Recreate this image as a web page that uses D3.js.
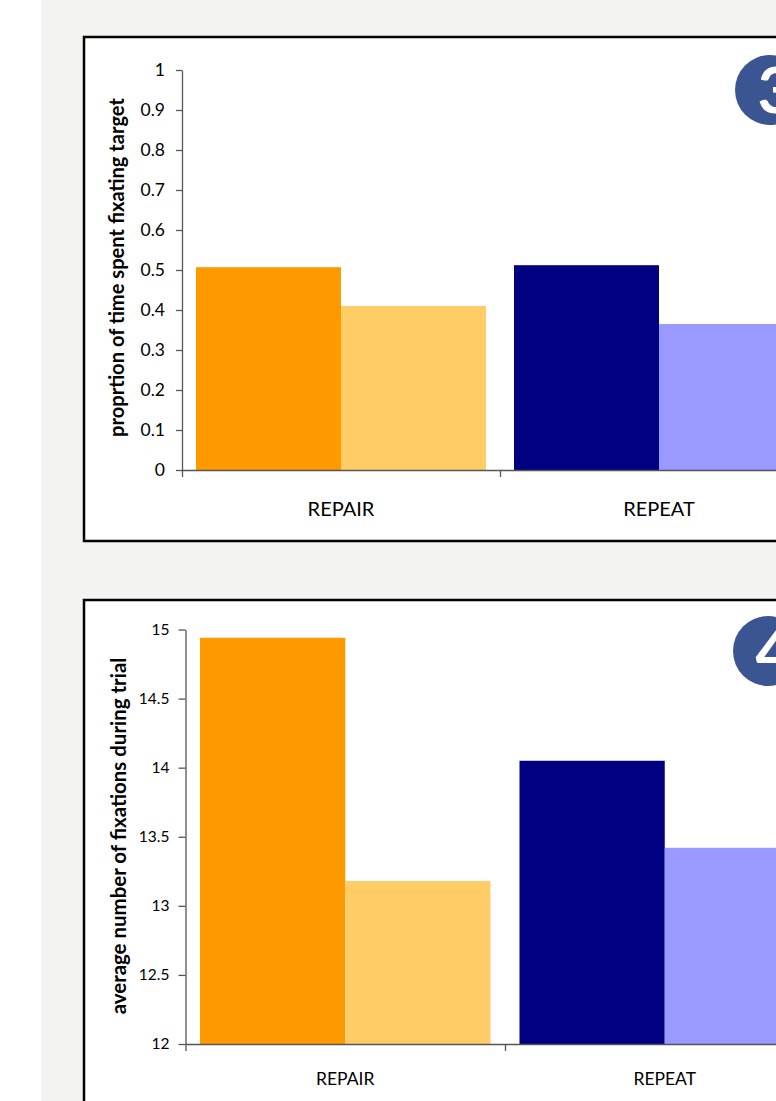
<!DOCTYPE html>
<html><head><meta charset="utf-8">
<script src="https://cdn.jsdelivr.net/npm/d3@7"></script>
<style>
html,body{margin:0;padding:0;background:#fff;}
svg{display:block;}
text{font-family:Lato,"Open Sans",sans-serif;}
</style></head>
<body>
<script>
// ---- data ----
const categories = ["REPAIR", "REPEAT"];
const seriesKeys = ["a", "b"];
const proportionValues = [[0.507, 0.41], [0.512, 0.365]];
const fixationValues = [[14.94, 13.18], [14.05, 13.42]];
const proportionTicks = [0, 0.1, 0.2, 0.3, 0.4, 0.5, 0.6, 0.7, 0.8, 0.9, 1];
const proportionTickLabels = ["0", "0.1", "0.2", "0.3", "0.4", "0.5", "0.6", "0.7", "0.8", "0.9", "1"];
const fixationTicks = [12, 12.5, 13, 13.5, 14, 14.5, 15];
const fixationTickLabels = ["12", "12.5", "13", "13.5", "14", "14.5", "15"];
const yTitles = ["proprtion of time spent fixating target", "average number of fixations during trial"];
const badgeLabels = ["3", "4"];
const barColors = [["#FF9900", "#FFCC66"], ["#000080", "#9999FF"]];

const W = 776, H = 1101;
const svg = d3.select("body").append("svg").attr("width", W).attr("height", H);
svg.append("rect").attr("x", 41).attr("y", 0).attr("width", W - 41).attr("height", H).attr("fill", "#f3f3f2");

function panel(cfg) {
  const g = svg.append("g");
  g.append("rect").attr("x", cfg.frame[0]).attr("y", cfg.frame[1])
    .attr("width", cfg.frame[2]).attr("height", cfg.frame[3])
    .attr("fill", "#fff").attr("stroke", "#000").attr("stroke-width", 2.5);

  const y = d3.scaleLinear().domain(cfg.domain).range([cfg.y0, cfg.y1]);
  const x = d3.scaleBand().domain(categories).range([cfg.x0, cfg.x0 + 2 * cfg.band]).paddingInner(0).paddingOuter(0);
  const xs = d3.scaleBand().domain(seriesKeys).range([cfg.pad, cfg.band - cfg.pad]).padding(0);

  categories.forEach((c, ci) => {
    seriesKeys.forEach((s, si) => {
      const v = cfg.values[ci][si];
      g.append("rect")
        .attr("x", x(c) + xs(s)).attr("width", xs.bandwidth())
        .attr("y", y(v)).attr("height", y(cfg.domain[0]) - y(v))
        .attr("fill", barColors[ci][si]);
    });
  });

  // y axis
  const yAxis = d3.axisLeft(y).tickValues(cfg.ticks)
    .tickFormat((d, i) => cfg.tickLabels[i]).tickSize(cfg.tickSize).tickPadding(cfg.tickPad).tickSizeOuter(0);
  const ya = g.append("g").attr("transform", `translate(${cfg.x0},0)`).call(yAxis);
  ya.selectAll("line,path").attr("stroke", "#555").attr("stroke-width", 1.3);
  ya.selectAll("text").attr("font-size", cfg.tickFont).attr("fill", "#000").attr("font-family", "Lato");

  // x axis
  const xl = d3.scaleLinear().domain([0, 2]).range([cfg.x0, cfg.x0 + 2 * cfg.band]);
  const xAxis = d3.axisBottom(xl).tickValues([0, 1, 2]).tickFormat("").tickSize(7).tickSizeOuter(0);
  const xa = g.append("g").attr("transform", `translate(0,${cfg.y0})`).call(xAxis);
  xa.selectAll("line,path").attr("stroke", "#555").attr("stroke-width", 1.3);

  categories.forEach(c => {
    g.append("text").attr("x", x(c) + cfg.band / 2).attr("y", cfg.catY)
      .attr("text-anchor", "middle").attr("font-size", cfg.catFont).attr("fill", "#000").text(c);
  });

  const t = g.append("text").attr("transform", `translate(${cfg.titleX},${cfg.titleY}) rotate(-90)`)
    .attr("text-anchor", "middle").attr("font-size", 15).attr("font-weight", "bold")
    .attr("fill", "#000").text(cfg.title);
  const len = t.node().getComputedTextLength();
  if (len > 0) t.attr("font-size", 15 * cfg.titleLen / len);

  g.append("circle").attr("cx", cfg.badge[0]).attr("cy", cfg.badge[1]).attr("r", 35).attr("fill", "#3b5592");
  g.append("text").attr("x", cfg.badge[0] + 6).attr("y", cfg.badge[1] + 23)
    .attr("text-anchor", "middle").attr("font-size", 64).attr("font-weight", "bold")
    .attr("font-family", cfg.badgeFont).attr("fill", "#fff").text(cfg.badgeLabel);
}

panel({
  frame: [84, 37, 760, 504], domain: [0, 1], y0: 470, y1: 70, x0: 182, band: 318, pad: 14,
  values: proportionValues, ticks: proportionTicks, tickLabels: proportionTickLabels,
  tickSize: 6, tickPad: 11, tickFont: 17.5, catY: 516, catFont: 20,
  title: yTitles[0], titleX: 124, titleY: 267.5, titleLen: 339,
  badge: [770, 90], badgeLabel: badgeLabels[0], badgeFont: "DejaVu Sans"
});

panel({
  frame: [84, 600, 760, 560], domain: [12, 15], y0: 1044, y1: 629.5, x0: 185.5, band: 319.5, pad: 14.5,
  values: fixationValues, ticks: fixationTicks, tickLabels: fixationTickLabels,
  tickSize: 7, tickPad: 9, tickFont: 15.5, catY: 1085, catFont: 17.5,
  title: yTitles[1], titleX: 126, titleY: 836, titleLen: 357,
  badge: [768, 651], badgeLabel: badgeLabels[1], badgeFont: "DejaVu Serif"
});
</script>
</body></html>
